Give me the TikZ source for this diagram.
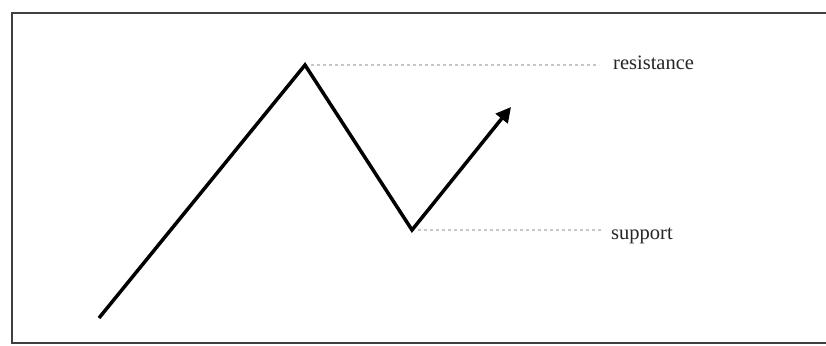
\documentclass[tikz,border=0pt]{standalone}
\usepackage{fontspec}
\setmainfont{Liberation Serif}
\usetikzlibrary{arrows.meta}
\begin{document}
\begin{tikzpicture}[x=1pt,y=-1pt,
  price/.style={line width=3.5pt, line join=miter, line cap=butt},
  level/.style={gray!45, line width=1.2pt, dash pattern=on 3pt off 3pt},
  lab/.style={anchor=base west, inner sep=0pt, font=\fontsize{20.5}{23}\selectfont, text=black!85}]
\useasboundingbox (0,0) rectangle (826,345);
\fill[white] (0,0) rectangle (826,345);
\draw[black!75, line width=1.6pt] (826,13) -- (12,13) -- (12,343) -- (826,343);
\coordinate (start) at (99,318);
\coordinate (peak) at (305,65);
\coordinate (trough) at (412,230);
\coordinate (tip) at (511,107);
\node[lab] (res) at (613,69) {resistance};
\node[lab] (sup) at (611,239) {support};
\draw[level] ([xshift=6pt]peak) -- ([xshift=-14pt]res.west |- peak);
\draw[level] ([xshift=6pt]trough) -- ([xshift=-10pt]sup.west |- trough);
\draw[price, -{Triangle[length=15pt,width=15pt]}] (start) -- (peak) -- (trough) -- (tip);
\end{tikzpicture}
\end{document}
